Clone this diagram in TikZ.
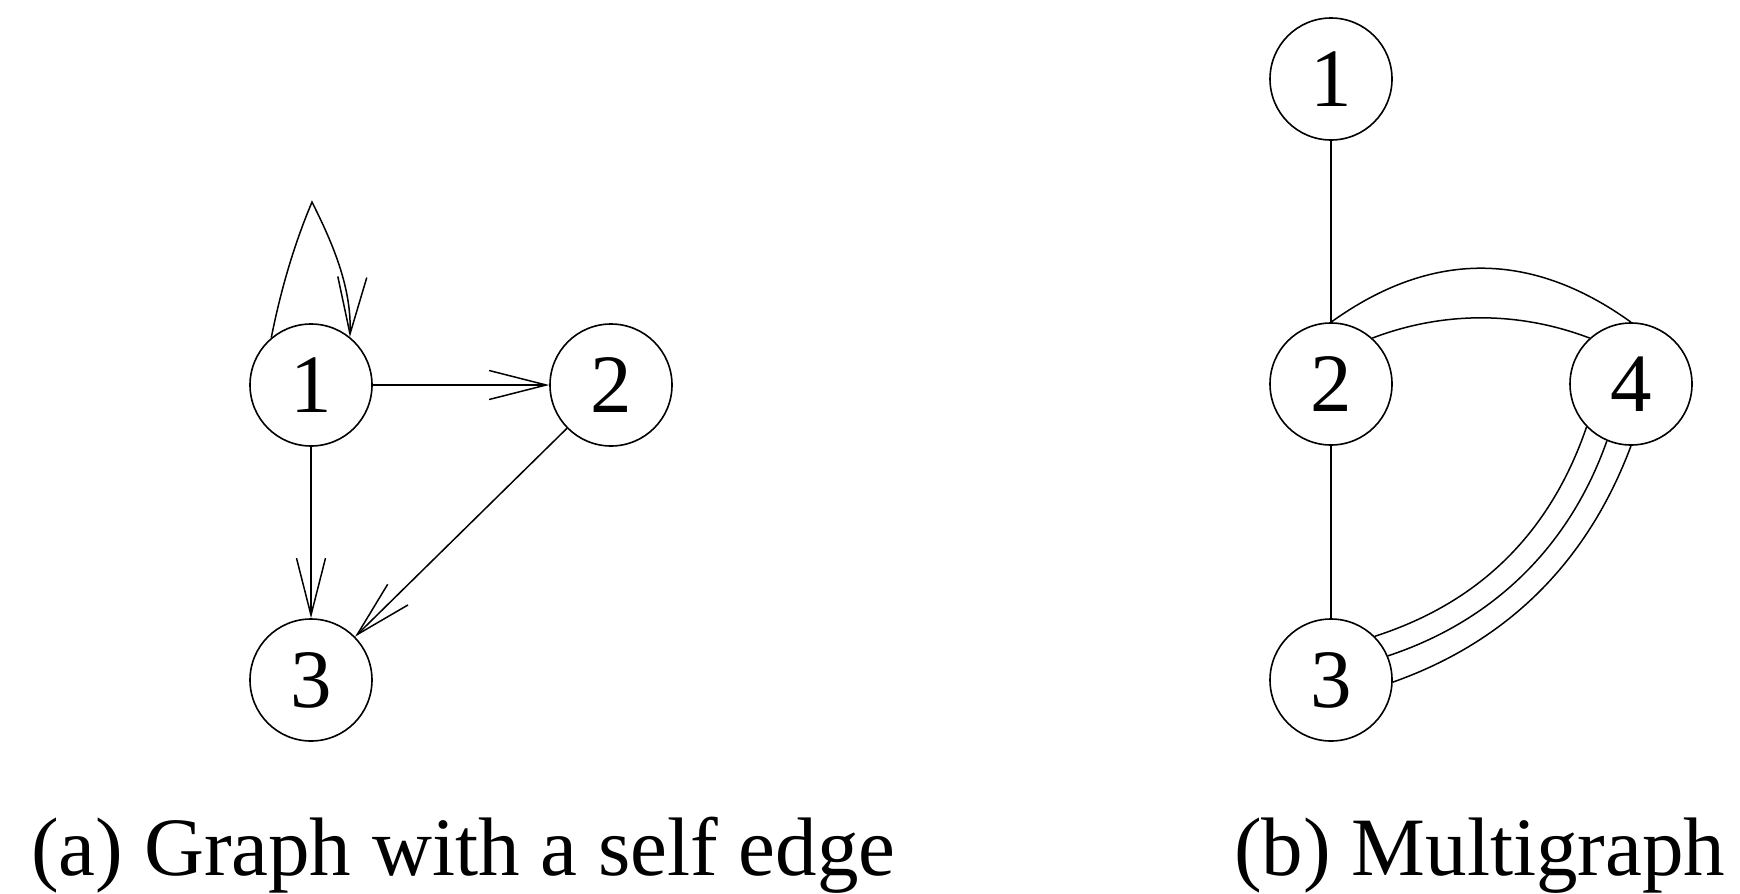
\documentclass[tikz,border=0pt]{standalone}
\usepackage{fontspec}
\setmainfont{Liberation Serif}
\usetikzlibrary{arrows.meta}
\begin{document}
\begin{tikzpicture}[x=1pt,y=-1pt,
  vertex/.style={draw, circle, line width=1.6pt, minimum size=122pt, inner sep=0pt,
    font=\fontsize{83}{90}\selectfont},
  edge/.style={line width=1.5pt},
  arr/.style={edge, -{Straight Barb[length=57pt, width=29pt, line width=1.5pt]}},
  captext/.style={anchor=base west, inner sep=0pt, font=\fontsize{83}{90}\selectfont}]
\useasboundingbox (0,0) rectangle (1740,894);
% (a)
\node[vertex] (a1) at (311,385) {1};
\node[vertex] (a2) at (611,385) {2};
\node[vertex] (a3) at (311,680) {3};
\coordinate (apex) at (312,202);
\draw[arr] (a1.130) .. controls +(9,-45) and +(-19,45) .. (apex)
                    .. controls +(20,40) and +(2,-50) .. (a1.51);
\draw[arr] (a1) -- (a2);
\draw[arr] (a1) -- (a3);
\draw[arr] (a2) -- (a3);
% (b)
\node[vertex] (b1) at (1331,79) {1};
\node[vertex] (b2) at (1331,384) {2};
\node[vertex] (b4) at (1631,384) {4};
\node[vertex] (b3) at (1331,680) {3};
\draw[edge] (b1) -- (b2);
\draw[edge] (b2) -- (b3);
\draw[edge] (b2.north) .. controls +(100,-72) and +(-100,-72) .. (b4.north);
\draw[edge] (b2.48) .. controls +(71,-27) and +(-71,-27) .. (b4.132);
\draw[edge] (b3.45) .. controls +(106,-34) and +(-36,105) .. (b4.224);
\draw[edge] (b3.23) .. controls +(106,-35) and +(-37,105) .. (b4.247);
\draw[edge] (b3.358) .. controls +(116,-41) and +(-43,115) .. (b4.270);
% captions
\node[captext] (capa) at (31,875) {(a) Graph with a self edge};
\node[captext] (capb) at (1234,875) {(b) Multigraph};
\end{tikzpicture}
\end{document}
